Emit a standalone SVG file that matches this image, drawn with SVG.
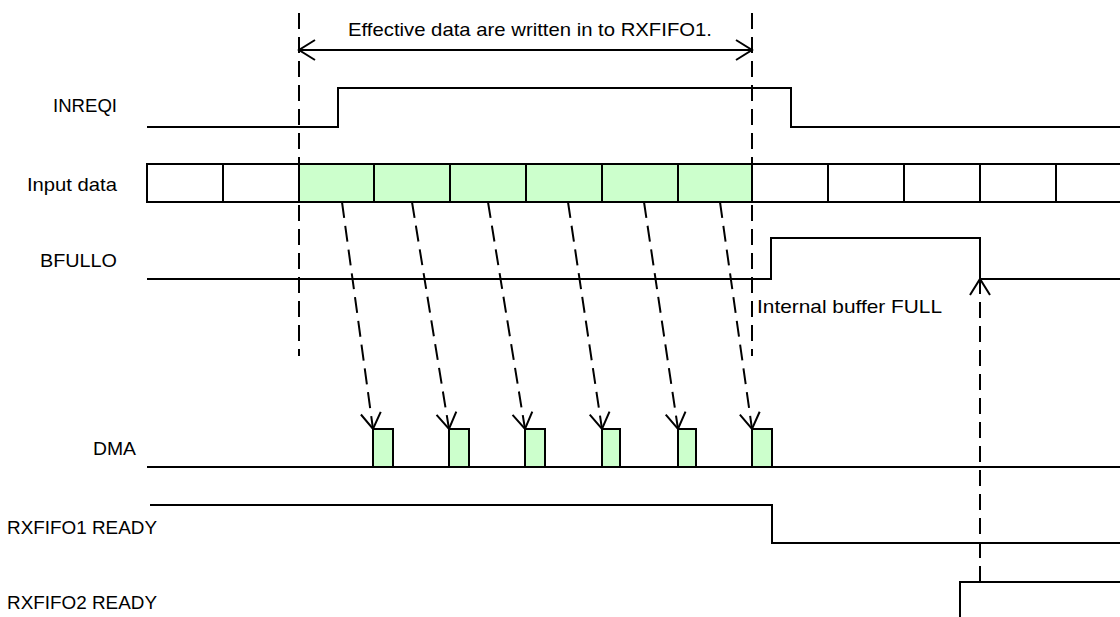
<svg xmlns="http://www.w3.org/2000/svg" width="1120" height="617" viewBox="0 0 1120 617">
<style>
.sig{fill:none;stroke:#000;stroke-width:2}
.cell{fill:#ccffcc;stroke:none}
.pulse{fill:#ccffcc;stroke:#000;stroke-width:2}
.dash{fill:none;stroke:#000;stroke-width:2;stroke-dasharray:16 8}
.lbl{font-family:"Liberation Sans",Arial,sans-serif;font-size:19px;fill:#000}
</style>
<defs>
<marker id="open" viewBox="-20 -12 22 24" refX="0" refY="0" markerWidth="22" markerHeight="24" markerUnits="userSpaceOnUse" orient="auto-start-reverse">
<path d="M-16,-10 L0,0 L-16,10" fill="none" stroke="#000" stroke-width="2"/>
</marker>
</defs>
<rect width="1120" height="617" fill="#fff"/>

<g id="labels">
<text class="lbl" x="53" y="112" textLength="64" lengthAdjust="spacingAndGlyphs">INREQI</text>
<text class="lbl" x="27" y="191" textLength="90" lengthAdjust="spacingAndGlyphs">Input data</text>
<text class="lbl" x="40" y="267" textLength="77" lengthAdjust="spacingAndGlyphs">BFULLO</text>
<text class="lbl" x="93" y="455" textLength="43" lengthAdjust="spacingAndGlyphs">DMA</text>
<text class="lbl" x="7" y="534" textLength="150" lengthAdjust="spacingAndGlyphs">RXFIFO1 READY</text>
<text class="lbl" x="7" y="609" textLength="150" lengthAdjust="spacingAndGlyphs">RXFIFO2 READY</text>
</g>

<g id="inreqi">
<path class="sig" d="M147,127 H338 V88 H791 V127 H1120"/>
</g>

<g id="input-data">
<rect class="cell" x="299" y="164" width="453" height="38"/>
<path class="sig" d="M1120,164 H147 V202 H1120 M223,164 V202 M299,164 V202 M374,164 V202 M450,164 V202 M526,164 V202 M602,164 V202 M678,164 V202 M752,164 V202 M828,164 V202 M904,164 V202 M980,164 V202 M1056,164 V202"/>
</g>

<g id="bfullo">
<path class="sig" d="M147,279 H771 V238 H980 V279 H1120"/>
</g>

<g id="dma">
<path class="sig" d="M147,467 H1120"/>
<rect class="pulse" x="373" y="429" width="20" height="38"/>
<rect class="pulse" x="449" y="429" width="20" height="38"/>
<rect class="pulse" x="525" y="429" width="20" height="38"/>
<rect class="pulse" x="602" y="429" width="18" height="38"/>
<rect class="pulse" x="678" y="429" width="18" height="38"/>
<rect class="pulse" x="752" y="429" width="20" height="38"/>
</g>

<g id="rxfifo1">
<path class="sig" d="M150,505 H772 V543 H1120"/>
</g>

<g id="rxfifo2">
<path class="sig" d="M960,617 V582 H1120"/>
</g>

<g id="window">
<line class="dash" x1="299" y1="13" x2="299" y2="356"/>
<line class="dash" x1="752" y1="13" x2="752" y2="356"/>
<line class="sig" x1="299" y1="50" x2="752" y2="50" marker-start="url(#open)" marker-end="url(#open)"/>
<text class="lbl" x="348" y="36" textLength="364" lengthAdjust="spacingAndGlyphs">Effective data are written in to RXFIFO1.</text>
</g>

<g id="connectors">
<line class="dash" x1="342" y1="202" x2="373" y2="429" marker-end="url(#open)"/>
<line class="dash" x1="412" y1="202" x2="449" y2="429" marker-end="url(#open)"/>
<line class="dash" x1="488" y1="202" x2="525" y2="429" marker-end="url(#open)"/>
<line class="dash" x1="568" y1="202" x2="602" y2="429" marker-end="url(#open)"/>
<line class="dash" x1="644" y1="202" x2="678" y2="429" marker-end="url(#open)"/>
<line class="dash" x1="720" y1="202" x2="752" y2="429" marker-end="url(#open)"/>
<line class="dash" x1="980" y1="582" x2="980" y2="279" marker-end="url(#open)"/>
</g>

<g id="note">
<text class="lbl" x="757" y="313" textLength="185" lengthAdjust="spacingAndGlyphs">Internal buffer FULL</text>
</g>
</svg>
